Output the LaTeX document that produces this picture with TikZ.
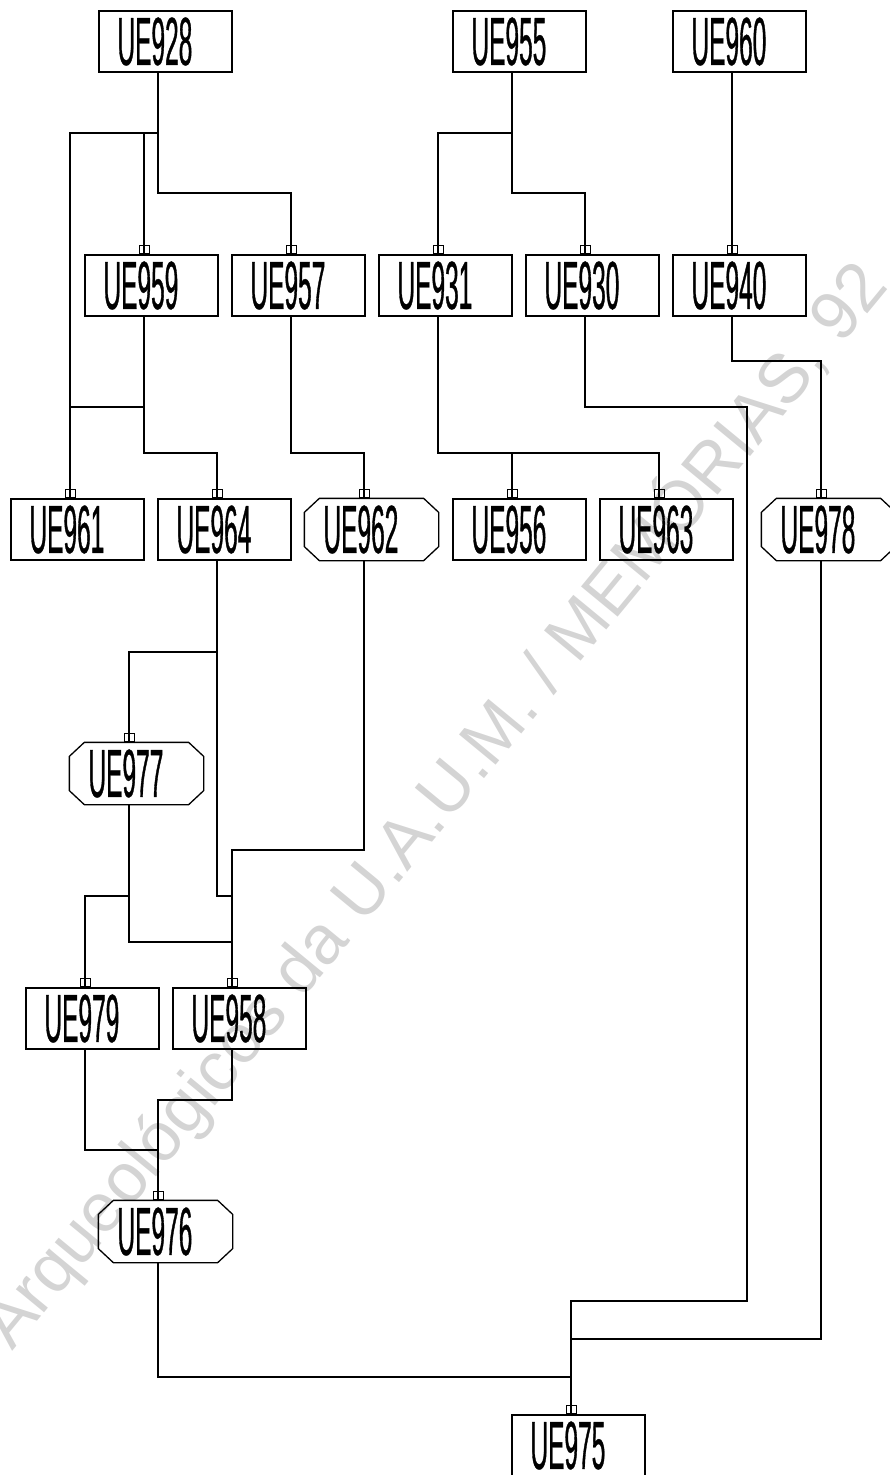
\documentclass[tikz,border=0pt]{standalone}
\usepackage{fontspec}
\newfontfamily\uefont[FakeStretch=0.36, FakeBold=0.5]{Liberation Sans}
\newfontfamily\markfont{Liberation Sans}
\definecolor{markgray}{RGB}{212,212,212}

\begin{document}
\begin{tikzpicture}[x=1pt, y=-1pt,
    ue/.style={draw, line width=1.3pt, rectangle, minimum width=133pt, minimum height=61pt,
      inner xsep=18.5pt, inner ysep=0pt, text width=96pt, align=left,
      font=\uefont\fontsize{68}{70}\selectfont},
    ueoct/.style={ue, draw=none, append after command={\pgfextra{
      \draw[line width=1.3pt]
        ([xshift=15pt]\tikzlastnode.north west) -- ([xshift=-15pt]\tikzlastnode.north east)
        -- ([yshift=-14pt]\tikzlastnode.north east) -- ([yshift=14pt]\tikzlastnode.south east)
        -- ([xshift=-15pt]\tikzlastnode.south east) -- ([xshift=15pt]\tikzlastnode.south west)
        -- ([yshift=14pt]\tikzlastnode.south west) -- ([yshift=-14pt]\tikzlastnode.north west)
        -- cycle;}}},
    link/.style={line width=1.3pt},
    tab/.style={draw, line width=0.9pt, rectangle, minimum width=10pt, minimum height=8pt,
      inner sep=0pt, anchor=south}]
        \useasboundingbox (0,0) rectangle (890,1475);

        % Watermark behind the graph
        \begin{scope}
          \clip (0,0) rectangle (890,1475);
          \node[text=markgray, font=\markfont\fontsize{69}{70}\selectfont, rotate=50.5,
            anchor=base west, inner sep=0pt] (wm) at (12,1352)
            {Arqueológicos da U.A.U.M. / MEMÓRIAS, 92};
        \end{scope}

        % Units, row by row
        \node[ue] (ue928) at (165.5,41.5) {UE928};
        \node[ue] (ue955) at (519.5,41.5) {UE955};
        \node[ue] (ue960) at (739.5,41.5) {UE960};

        \node[ue] (ue959) at (151.5,285.5) {UE959};
        \node[ue] (ue957) at (298.5,285.5) {UE957};
        \node[ue] (ue931) at (445.5,285.5) {UE931};
        \node[ue] (ue930) at (592.5,285.5) {UE930};
        \node[ue] (ue940) at (739.5,285.5) {UE940};

        \node[ue] (ue961) at (77.5,529.5) {UE961};
        \node[ue] (ue964) at (224.5,529.5) {UE964};
        \node[ueoct] (ue962) at (371.5,529.5) {UE962};
        \node[ue] (ue956) at (519.5,529.5) {UE956};
        \node[ue] (ue963) at (666.5,529.5) {UE963};
        \node[ueoct] (ue978) at (828.5,529.5) {UE978};

        \node[ueoct] (ue977) at (136.5,773.5) {UE977};

        \node[ue] (ue979) at (92.5,1018.5) {UE979};
        \node[ue] (ue958) at (239.5,1018.5) {UE958};

        \node[ueoct] (ue976) at (165.5,1231.5) {UE976};

        \node[ue] (ue975) at (578.5,1445.5) {UE975};

        % Ports: top and bottom connection points of each unit
        \foreach \n in {928,955,960,959,957,931,930,940,961,964,962,956,963,978,977,979,958,976,975} {
          \coordinate (top_\n) at ([xshift=-7.5pt]ue\n.north);
          \coordinate (bot_\n) at ([xshift=-7.5pt]ue\n.south);
        }

        % Bend levels
        \coordinate (lv_a) at (0,133);
        \coordinate (lv_b) at (0,193);
        \coordinate (lv_c) at (0,361);
        \coordinate (lv_d) at (0,407);
        \coordinate (lv_e) at (0,453);
        \coordinate (lv_f) at (0,652);
        \coordinate (lv_g) at (0,850);
        \coordinate (lv_h) at (0,896);
        \coordinate (lv_i) at (0,942);
        \coordinate (lv_j) at (0,1100);
        \coordinate (lv_k) at (0,1150);
        \coordinate (lv_l) at (0,1301);
        \coordinate (lv_m) at (0,1339);
        \coordinate (lv_n) at (0,1377);
        \coordinate (side_930) at (747,407);

        % Draw connections
        \draw[link] (bot_928) |- (top_961 |- lv_a) -- (top_961);
        \draw[link] (bot_928) |- (top_959 |- lv_a) -- (top_959);
        \draw[link] (bot_928) |- (top_957 |- lv_b) -- (top_957);
        \draw[link] (bot_955) |- (top_931 |- lv_a) -- (top_931);
        \draw[link] (bot_955) |- (top_930 |- lv_b) -- (top_930);
        \draw[link] (bot_960) -- (top_940);

        \draw[link] (bot_959) |- (top_961 |- lv_d) -- (top_961);
        \draw[link] (bot_959) |- (top_964 |- lv_e) -- (top_964);
        \draw[link] (bot_957) |- (top_962 |- lv_e) -- (top_962);
        \draw[link] (bot_931) |- (top_956 |- lv_e) -- (top_956);
        \draw[link] (bot_931) |- (top_963 |- lv_e) -- (top_963);
        \draw[link] (bot_930) |- (side_930) |- (top_975 |- lv_l) -- (top_975);
        \draw[link] (bot_940) |- (top_978 |- lv_c) -- (top_978);

        \draw[link] (bot_964) |- (top_977 |- lv_f) -- (top_977);
        \draw[link] (bot_964) |- (top_958 |- lv_h) -- (top_958);
        \draw[link] (bot_962) |- (top_958 |- lv_g) -- (top_958);
        \draw[link] (bot_978) |- (top_975 |- lv_m) -- (top_975);

        \draw[link] (bot_977) |- (top_979 |- lv_h) -- (top_979);
        \draw[link] (bot_977) |- (top_958 |- lv_i) -- (top_958);

        \draw[link] (bot_979) |- (top_976 |- lv_k) -- (top_976);
        \draw[link] (bot_958) |- (top_976 |- lv_j) -- (top_976);
        \draw[link] (bot_976) |- (top_975 |- lv_n) -- (top_975);

        % Small tabs where a line enters a unit
        \foreach \n in {959,957,931,930,940,961,964,962,956,963,978,977,979,958,976,975}
          \node[tab] (tab_\n) at (top_\n) {};
      \end{tikzpicture}
\end{document}
